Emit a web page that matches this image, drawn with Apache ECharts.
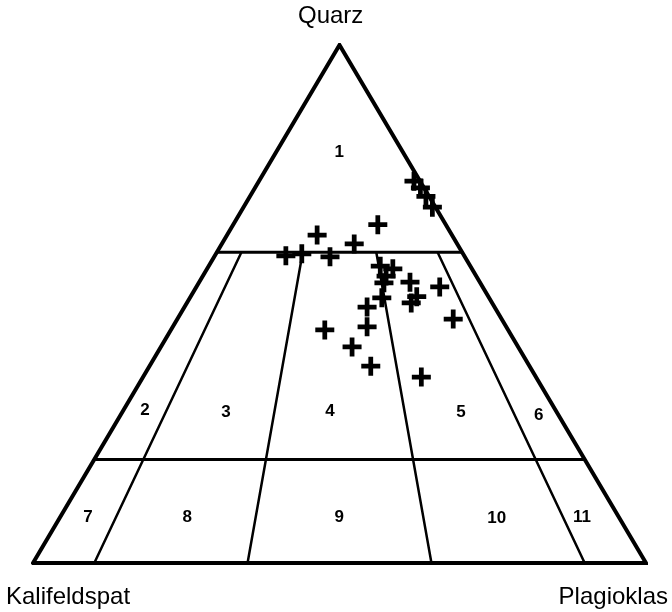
<!DOCTYPE html>
<html>
<head>
<meta charset="utf-8">
<script src="https://cdn.jsdelivr.net/npm/echarts@6/dist/echarts.min.js"></script>
<style>
    html, body { margin: 0; background: #fff; }
    #main { width: 672px; height: 612px; }
</style>
</head>
<body>
<div id="main"></div>
<script>
    // modal composition of the samples, in % (Quarz, Kalifeldspat, Plagioklas)
    var quarz = [73.7, 72.4, 70.8, 68.7, 63.3, 65.3, 61.6, 59.3, 59.7, 59.1, 57.3, 56.8, 55.4,
        54.1, 51.2, 54.2, 51.4, 50.2, 53.3, 49.4, 45.6, 47.1, 45.0, 41.7, 38.0, 35.9];
    var kalifeldspat = [1.0, 0.6, 0.5, 0.5, 22.0, 11.1, 16.8, 29.1, 26.3, 22.0, 14.7, 12.9, 14.7,
        15.7, 17.5, 11.4, 11.7, 13.2, 7.0, 20.8, 22.7, 7.9, 29.9, 27.1, 25.9, 18.7];
    var plagioklas = [25.3, 27.0, 28.7, 30.8, 14.7, 23.6, 21.6, 11.6, 14.0, 18.9, 28.0, 30.3, 29.9,
        30.2, 31.3, 34.4, 36.9, 36.6, 39.7, 29.8, 31.7, 45.0, 25.1, 31.2, 36.1, 45.4];

    // field boundaries (Streckeisen): Q levels and P/(A+P) ratios
    var qLevels = [60, 20];
    var plagRatios = [10, 35, 65, 90];

    // field numbers, placed at (Q, P)
    var fieldNames = ['1', '2', '3', '4', '5', '6', '7', '8', '9', '10', '11'];
    var fieldQ = [79.3, 29.5, 29.0, 29.3, 29.0, 28.6, 8.9, 8.9, 8.9, 8.7, 8.9];
    var fieldP = [10.3, 3.5, 17.0, 33.8, 55.3, 68.2, 4.5, 20.7, 45.5, 71.3, 85.1];

    var apexNames = ['Quarz', 'Kalifeldspat', 'Plagioklas'];

    var chartDom = document.getElementById('main');
    var myChart = echarts.init(chartDom);

    // ternary -> cartesian (x along the base, y = Q)
    function tern(q, a, p) {
        var s = q + a + p;
        q = q / s * 100;
        p = p / s * 100;
        return [p + q / 2, q];
    }

    function lineSeries(data, width) {
        return {
            type: 'line',
            data: data,
            symbol: 'none',
            silent: true,
            animation: false,
            lineStyle: { color: '#000', width: width, cap: 'round', join: 'miter' }
        };
    }

    var series = [];

    series.push(lineSeries([tern(0, 100, 0), tern(100, 0, 0), tern(0, 0, 100), tern(0, 100, 0)], 4));

    qLevels.forEach(function (q) {
        series.push(lineSeries([tern(q, 100 - q, 0), tern(q, 0, 100 - q)], 3));
    });

    plagRatios.forEach(function (r) {
        var top = 100 - qLevels[0];
        series.push(lineSeries([
            tern(qLevels[0], top * (1 - r / 100), top * r / 100),
            tern(0, 100 - r, r)
        ], 2.5));
    });

    series.push({
        type: 'scatter',
        animation: false,
        symbol: 'path://M7.5,0h5v20h-5zM0,7.5h20v5h-20z',
        symbolSize: 19,
        itemStyle: { color: '#000', opacity: 1 },
        data: quarz.map(function (q, i) {
            return tern(q, kalifeldspat[i], plagioklas[i]);
        })
    });

    series.push({
        type: 'scatter',
        animation: false,
        symbolSize: 1,
        itemStyle: { color: '#fff', opacity: 1 },
        label: {
            show: true,
            position: 'inside',
            formatter: '{b}',
            color: '#000',
            opacity: 1,
            fontFamily: 'Liberation Sans',
            fontWeight: 'bold',
            fontSize: 17
        },
        data: fieldNames.map(function (n, i) {
            return { name: n, value: tern(fieldQ[i], 100 - fieldQ[i] - fieldP[i], fieldP[i]) };
        })
    });

    var option = {
        backgroundColor: '#fff',
        grid: { left: 33, top: 45, width: 613, height: 518 },
        xAxis: { type: 'value', min: 0, max: 100, show: false },
        yAxis: { type: 'value', min: 0, max: 100, show: false },
        graphic: [
            { type: 'text', left: 298, top: 4, style: { text: apexNames[0], font: '24px "Liberation Sans"', fill: '#000' } },
            { type: 'text', left: 6, top: 585, style: { text: apexNames[1], font: '24px "Liberation Sans"', fill: '#000' } },
            { type: 'text', right: 4, top: 585, style: { text: apexNames[2], font: '24px "Liberation Sans"', fill: '#000' } }
        ],
        series: series
    };

    myChart.setOption(option);
</script>
</body>
</html>
